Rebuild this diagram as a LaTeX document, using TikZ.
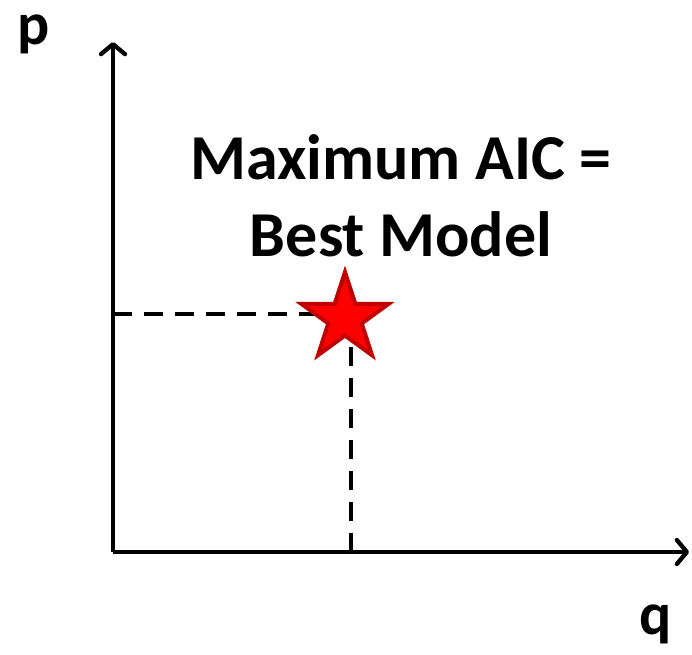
\documentclass[tikz,border=0pt]{standalone}
\usepackage{fontspec}
\setmainfont{Carlito}
\usetikzlibrary{positioning,arrows.meta,shapes.geometric}
\definecolor{starred}{HTML}{FF0000}
\definecolor{stardark}{HTML}{C00000}
\tikzset{
  axis/.style={-{Straight Barb[length=10pt,width=24pt,line cap=round,line join=round]},line width=4.3pt},
  guide/.style={line width=3.5pt,dash pattern=on 19pt off 12pt},
  axlbl/.style={font=\fontsize{60}{64}\selectfont\bfseries,inner sep=0pt},
  note/.style={font=\fontsize{64}{77}\selectfont\bfseries,align=center,inner sep=0pt},
  beststar/.style={star,star points=5,star point ratio=2.618,draw=stardark,fill=starred,
    line width=4pt,minimum size=92pt,inner sep=0pt},
}
\begin{document}
\begin{tikzpicture}[x=1pt,y=-1pt]
  \useasboundingbox (0,0) rectangle (692,654);
  % axes
  \coordinate (o) at (113,552);
  \coordinate (ytip) at (113,42);
  \coordinate (xtip) at (689,552);
  \draw[axis] (o) -- (ytip);
  \draw[axis] (o) -- (xtip);
  \node[axlbl] (p) at (34,34) {p};
  \node[axlbl] (q) at (656,624) {q};
  % optimum
  \coordinate (peak) at (351,314);
  \draw[guide] (o |- peak) -- (peak);
  \draw[guide] (o -| peak) -- (peak);
  \node[beststar] (best) at (345,318) {};
  \node[note] (aic) at (401,196) {Maximum AIC =\\Best Model};
\end{tikzpicture}
\end{document}
